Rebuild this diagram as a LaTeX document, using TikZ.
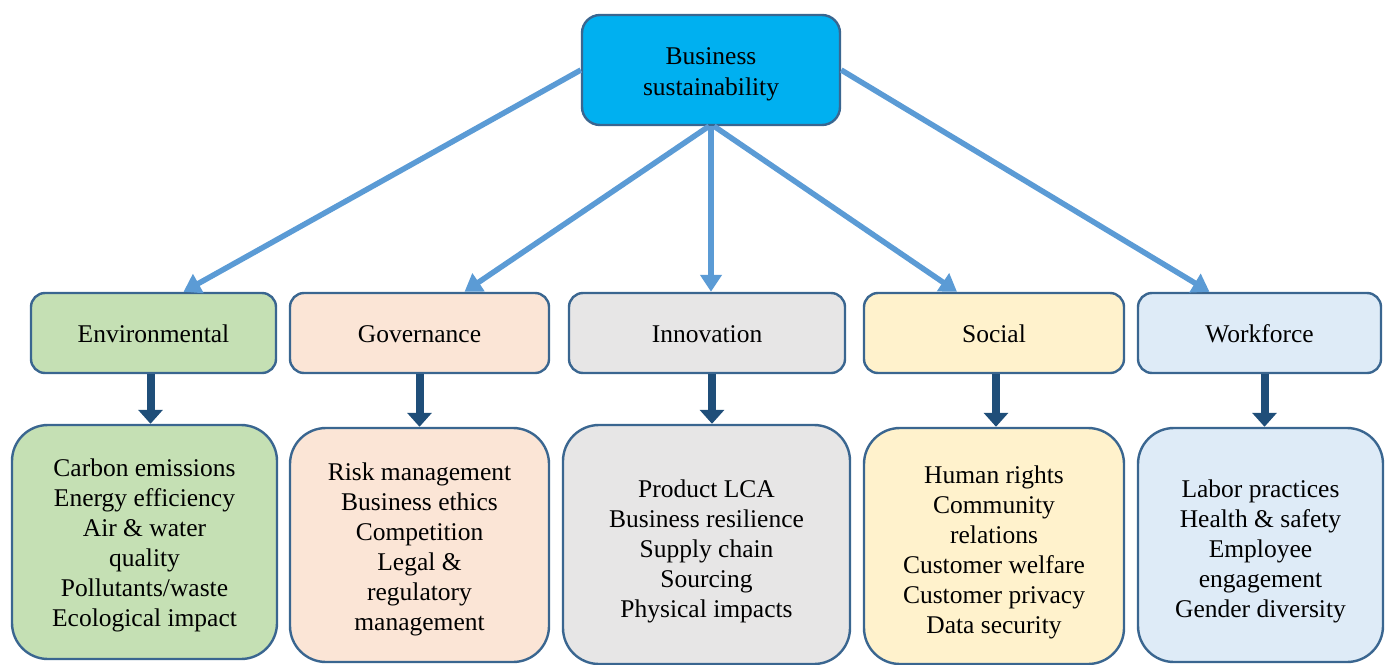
\documentclass[tikz,border=0pt]{standalone}
\usepackage{fontspec}
\setmainfont{Liberation Serif}
\usetikzlibrary{arrows.meta}
\definecolor{edge}{HTML}{3A6690}
\definecolor{topfill}{HTML}{00B0F0}
\definecolor{envfill}{HTML}{C5E0B4}
\definecolor{govfill}{HTML}{FBE5D6}
\definecolor{innfill}{HTML}{E7E6E6}
\definecolor{socfill}{HTML}{FFF2CC}
\definecolor{wrkfill}{HTML}{DEEBF7}
\definecolor{lightarrow}{HTML}{5B9BD5}
\definecolor{darkarrow}{HTML}{1F4E79}
\tikzset{
  box/.style={draw=edge, line width=2.4pt, align=center, inner sep=0pt,
    font=\fontsize{25.5}{30}\selectfont},
  catbox/.style={box, rounded corners=14pt, minimum height=80pt},
  listbox/.style={box, rounded corners=36pt},
  txt/.style={align=center, inner sep=0pt, font=\fontsize{25.5}{30}\selectfont},
  larr/.style={draw=lightarrow, line width=5.5pt, -{Triangle[width=21pt,length=17pt]}},
  darr/.style={draw=darkarrow, line width=8pt, -{Triangle[width=24pt,length=14pt]}},
}
\begin{document}
\begin{tikzpicture}[x=1pt,y=-1pt]
\useasboundingbox (0,0) rectangle (1386,664);
\node[box, fill=topfill, rounded corners=18pt, minimum width=258pt, minimum height=110pt] (top) at (711,70) {};
\node[txt, font=\fontsize{25.5}{31}\selectfont] (topt) at (711,74.5) {Business\\sustainability};

\node[catbox, fill=envfill, minimum width=245pt] (e2) at (153.5,333) {};
\node[txt] (e2t) at (153.5,334) {Environmental};
\node[catbox, fill=govfill, minimum width=259pt] (g2) at (419.5,333) {};
\node[txt] (g2t) at (419.5,334) {Governance};
\node[catbox, fill=innfill, minimum width=276pt] (i2) at (707,333) {};
\node[txt] (i2t) at (707,334) {Innovation};
\node[catbox, fill=socfill, minimum width=260pt] (s2) at (994,333) {};
\node[txt] (s2t) at (994,334) {Social};
\node[catbox, fill=wrkfill, minimum width=243pt] (w2) at (1259.5,333) {};
\node[txt] (w2t) at (1259.5,334) {Workforce};

\node[listbox, fill=envfill, minimum width=265pt, minimum height=234pt] (e3) at (144.5,542) {};
\node[txt] (e3t) at (144.5,545)
  {Carbon emissions\\Energy efficiency\\Air \& water\\quality\\Pollutants/waste\\Ecological impact};
\node[listbox, fill=govfill, minimum width=259pt, minimum height=234pt] (g3) at (419.5,545) {};
\node[txt] (g3t) at (419.5,549)
  {Risk management\\Business ethics\\Competition\\Legal \&\\regulatory\\management};
\node[listbox, fill=innfill, minimum width=287pt, minimum height=239pt] (i3) at (706.5,544.5) {};
\node[txt] (i3t) at (706.5,551)
  {Product LCA\\Business resilience\\Supply chain\\Sourcing\\Physical impacts};
\node[listbox, fill=socfill, minimum width=260pt, minimum height=236pt] (s3) at (994,546) {};
\node[txt] (s3t) at (994,552)
  {Human rights\\Community\\relations\\Customer welfare\\Customer privacy\\Data security};
\node[listbox, fill=wrkfill, minimum width=245pt, minimum height=234pt] (w3) at (1260.5,545) {};
\node[txt] (w3t) at (1260.5,551)
  {Labor practices\\Health \& safety\\Employee\\engagement\\Gender diversity};

\draw[larr] (top.west) -- ([xshift=30pt]e2.north);
\draw[larr] ([xshift=-2pt]top.south) -- ([xshift=45pt]g2.north);
\draw[larr] (top.south) -- (top.south |- i2.north);
\draw[larr] ([xshift=3pt]top.south) -- ([xshift=-37pt]s2.north);
\draw[larr] (top.east) -- ([xshift=-50pt]w2.north);

\draw[darr] ([xshift=-3pt]e2.south) -- ([xshift=-3pt]e2.south |- e3.north);
\draw[darr] (g2.south) -- (g2.south |- g3.north);
\draw[darr] ([xshift=5pt]i2.south) -- ([xshift=5pt]i2.south |- i3.north);
\draw[darr] ([xshift=2pt]s2.south) -- ([xshift=2pt]s2.south |- s3.north);
\draw[darr] ([xshift=5pt]w2.south) -- ([xshift=5pt]w2.south |- w3.north);
\end{tikzpicture}
\end{document}
